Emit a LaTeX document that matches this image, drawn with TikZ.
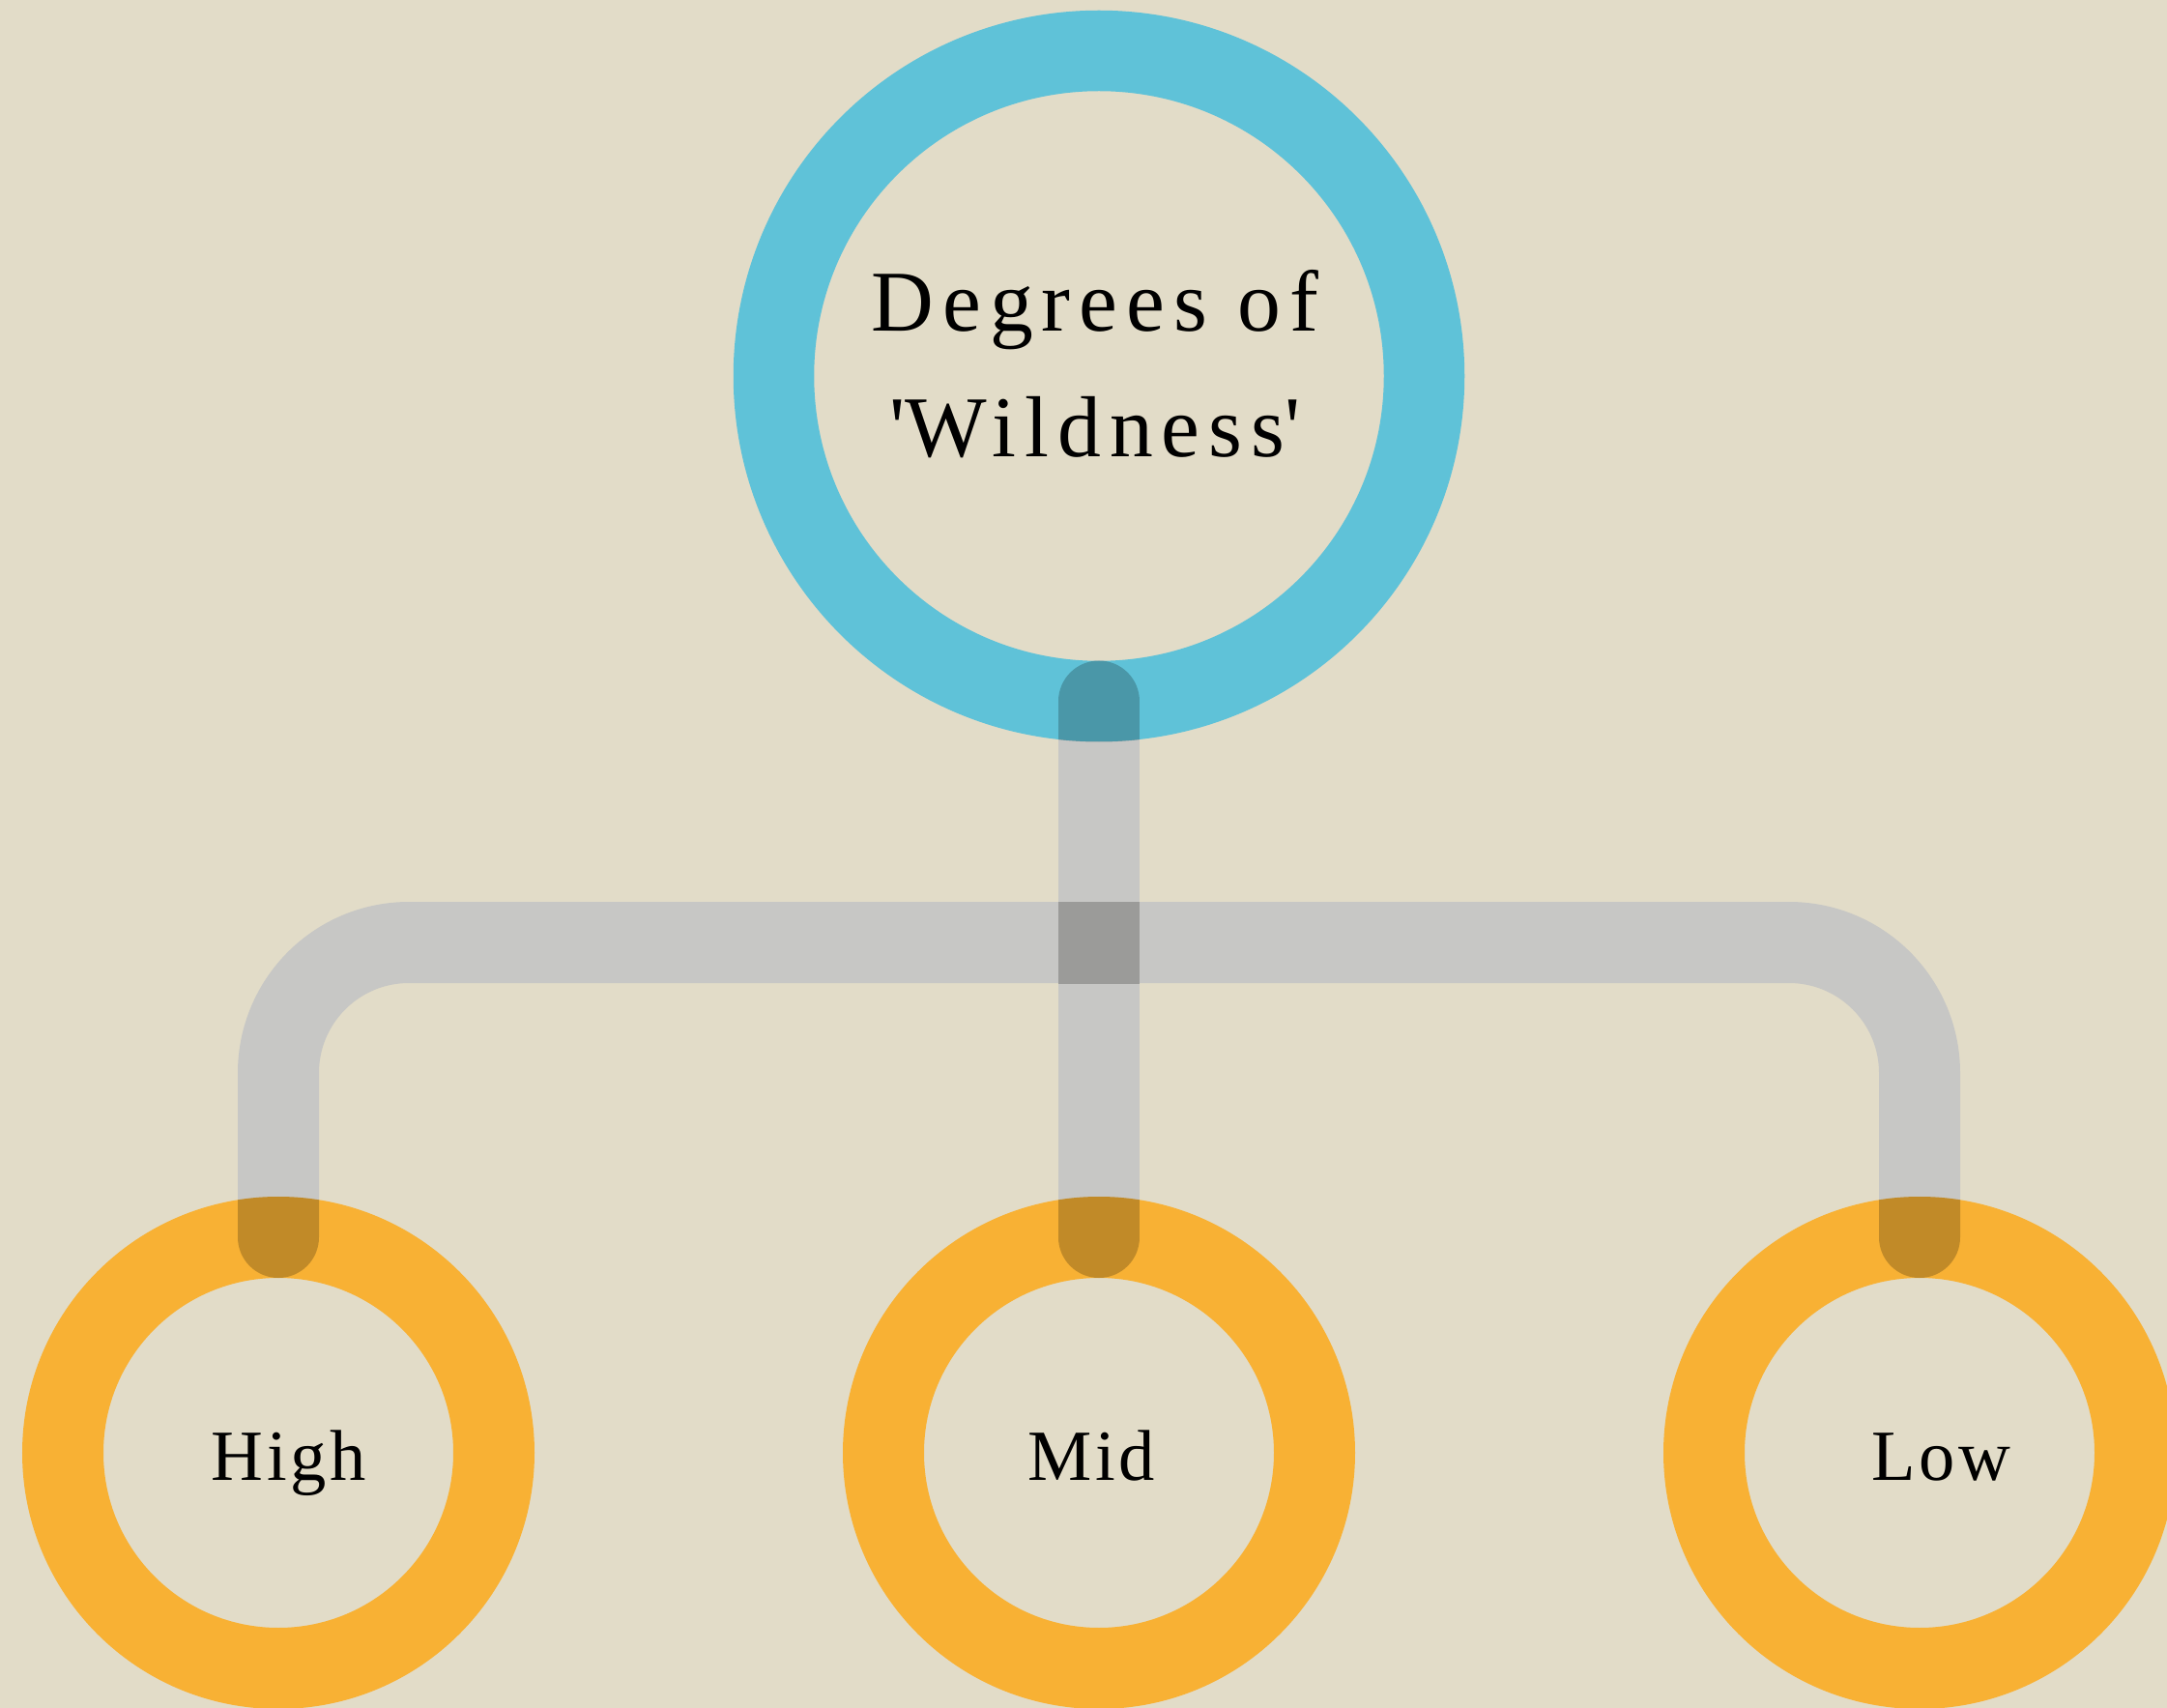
\documentclass[tikz,border=0pt]{standalone}
\usepackage{fontspec}
\setmainfont{Liberation Serif}[LetterSpace=5]
\newfontfamily\rootfont{Liberation Serif}[LetterSpace=10]
\usetikzlibrary{calc}
\usetikzlibrary{backgrounds}

\definecolor{paper}{HTML}{E2DCC8}
\definecolor{skyring}{HTML}{5FC2D8}
\definecolor{sunring}{HTML}{F8B134}
\definecolor{pipe}{HTML}{C7C7C5}

\begin{document}
\begin{tikzpicture}[
            root node/.style={circle,draw=skyring,line width=0.835cm,minimum size=6.73cm,inner sep=0pt,outer sep=0pt},
            leaf node/.style={circle,draw=sunring,line width=0.84cm,minimum size=4.46cm,inner sep=0pt,outer sep=0pt},
            root text/.style={align=center,font=\rootfont\fontsize{25.5}{37}\selectfont},
            leaf text/.style={font=\fontsize{21.2}{25}\selectfont,text height=0.56cm,text depth=0pt},
            pipe line/.style={draw=pipe,line width=0.84cm,line cap=round,rounded corners=1.35cm},
            shade line/.style={draw=black,opacity=0.22,line width=0.84cm,line cap=round,rounded corners=1.35cm},
            ]
            \def\R{2.65}

            \useasboundingbox (0,0) rectangle (22.42,-17.67);

            \node[root node,label={[root text,xshift=-0.04cm,yshift=0.125cm]center:Degrees of\\\textquotesingle Wildness\textquotesingle}] (top) at (11.37,-3.89) {};
            \node[leaf node,label={[leaf text,xshift=0.11cm]center:High}] (high) at (2.88,-15.03) {};
            \node[leaf node,label={[leaf text,xshift=-0.08cm]center:Mid}] (mid) at (11.37,-15.03) {};
            \node[leaf node,label={[leaf text,xshift=0.22cm]center:Low}] (low) at (19.86,-15.03) {};

            \coordinate (split) at ($(top.south)!0.45!(mid.north)$);

            \begin{scope}[on background layer]
                \fill[paper] (0,0) rectangle (22.42,-17.67);
                \draw[pipe line] (top.south) -- (mid.north);
                \draw[pipe line] (high.north) |- (split) -| (low.north);
            \end{scope}

            % darker where the pipes run over the rings
            \begin{scope}
                \clip (top) circle[radius=3.785cm] (high) circle[radius=\R cm] (mid) circle[radius=\R cm] (low) circle[radius=\R cm];
                \draw[shade line] (top.south) -- (mid.north);
                \draw[shade line] (high.north) |- (split) -| (low.north);
            \end{scope}
            % and where they cross
            \begin{scope}
                \clip ($(split)+(-0.5,-0.42)$) rectangle ($(split)+(0.5,0.42)$);
                \draw[shade line] (top.south) -- (mid.north);
            \end{scope}
        \end{tikzpicture}
\end{document}
